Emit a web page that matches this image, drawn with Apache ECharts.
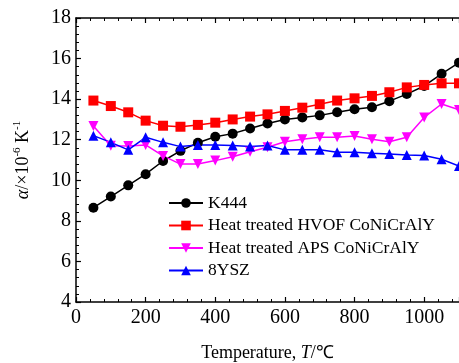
<!DOCTYPE html>
<html>
	<head>
		<meta charset="utf-8">
		<title>CTE</title>
		<script src="https://cdn.jsdelivr.net/npm/echarts@6/dist/echarts.min.js"></script>
		<style>
			html, body { margin: 0; padding: 0; background: #fff; }
			#chart { width: 459px; height: 363px; }
		</style>
	</head>
	<body>
		<div id="chart"></div>
		<script>
			// 温度 (℃)
			var temps = [50, 100, 150, 200, 250, 300, 350, 400, 450, 500, 550,
				600, 650, 700, 750, 800, 850, 900, 950, 1000, 1050, 1100];
			var k444 = [8.65, 9.2, 9.75, 10.3, 10.95, 11.45, 11.85, 12.15, 12.3, 12.55, 12.8,
				13.0, 13.1, 13.2, 13.35, 13.5, 13.6, 13.9, 14.25, 14.65, 15.25, 15.8];
			var hvof = [13.93, 13.66, 13.35, 12.94, 12.69, 12.64, 12.73, 12.84, 13.0, 13.14, 13.25,
				13.42, 13.58, 13.75, 13.93, 14.04, 14.16, 14.34, 14.58, 14.7, 14.78, 14.78];
			var aps = [12.68, 11.7, 11.69, 11.74, 11.2, 10.8, 10.8, 10.97, 11.16, 11.41, 11.63,
				11.9, 12.02, 12.12, 12.12, 12.18, 12.02, 11.9, 12.12, 13.1, 13.76, 13.47];
			var ysz = [12.2, 11.87, 11.5, 12.12, 11.87, 11.66, 11.74, 11.74, 11.71, 11.66, 11.71,
				11.5, 11.5, 11.5, 11.38, 11.38, 11.33, 11.3, 11.25, 11.22, 11.04, 10.7];
			var names = ['K444', 'Heat treated HVOF CoNiCrAlY', 'Heat treated APS CoNiCrAlY', '8YSZ'];

			function pairs(ys) {
				var out = [];
				for (var i = 0; i < temps.length; i++) {
					out.push([temps[i], ys[i]]);
				}
				return out;
			}

			var font = 'Liberation Serif';
			var chart = echarts.init(document.getElementById('chart'));

			function mkSeries(name, ys, color, symbol, rotate) {
				return {
					name: name,
					type: 'line',
					data: pairs(ys),
					symbol: symbol,
					symbolSize: 10,
					symbolRotate: rotate || 0,
					lineStyle: { color: color, width: 1.5 },
					itemStyle: { color: color },
					clip: true
				};
			}

			var axisCommon = {
				axisLine: { lineStyle: { color: '#000', width: 1.5 } },
				axisTick: { inside: true, length: 5, lineStyle: { color: '#000', width: 1.2 } },
				minorTick: { show: true, splitNumber: 5, length: 3, lineStyle: { color: '#000', width: 1 } },
				splitLine: { show: false }
			};

			var option = {
				animation: false,
				grid: { left: 76, right: 0, top: 18, bottom: 61, outerBoundsMode: 'none' },
				legend: {
					orient: 'vertical',
					left: 168,
					top: 194,
					padding: 0,
					itemWidth: 34,
					itemHeight: 12,
					itemGap: 4.5,
					data: names,
					textStyle: { fontFamily: font, fontSize: 17.5, color: '#000', lineHeight: 18 }
				},
				xAxis: [
					Object.assign({
						type: 'value',
						min: 0,
						max: 1100,
						interval: 200,
						name: '{n|Temperature, }{i|T}{n|/℃}',
						nameLocation: 'middle',
						nameGap: 42,
						nameTextStyle: {
							rich: {
								n: { fontFamily: font, fontSize: 18, color: '#000' },
								i: { fontFamily: font, fontSize: 18, fontStyle: 'italic', color: '#000' }
							}
						},
						axisLabel: {
							fontFamily: font, fontSize: 20, color: '#000', margin: 6, showMaxLabel: false,
							formatter: function(v) { return String(v); }
						}
					}, axisCommon),
					Object.assign({
						type: 'value',
						position: 'top',
						min: 0,
						max: 1100,
						interval: 200,
						axisLabel: { show: false }
					}, axisCommon)
				],
				yAxis: [
					Object.assign({
						type: 'value',
						min: 4,
						max: 18,
						interval: 2,
						name: '{a|α}{n|/×10}{s|-6}{n| K}{s|-1}',
						nameLocation: 'middle',
						nameRotate: 90,
						nameGap: 42,
						nameTextStyle: {
							rich: {
								a: { fontFamily: font, fontSize: 18, fontStyle: 'italic', color: '#000', lineHeight: 22 },
								n: { fontFamily: font, fontSize: 18, color: '#000', lineHeight: 22 },
								s: { fontFamily: font, fontSize: 11, color: '#000', verticalAlign: 'top', lineHeight: 22, padding: [0, 0, 8, 0] }
							}
						},
						axisLabel: { fontFamily: font, fontSize: 20, color: '#000', margin: 5 }
					}, axisCommon)
				],
				series: [
					mkSeries(names[0], k444, '#000000', 'circle'),
					mkSeries(names[1], hvof, '#ff0000', 'rect'),
					mkSeries(names[2], aps, '#ff00ff', 'triangle', 180),
					mkSeries(names[3], ysz, '#0000ff', 'triangle')
				]
			};
			chart.setOption(option);
		</script>
	</body>
</html>
